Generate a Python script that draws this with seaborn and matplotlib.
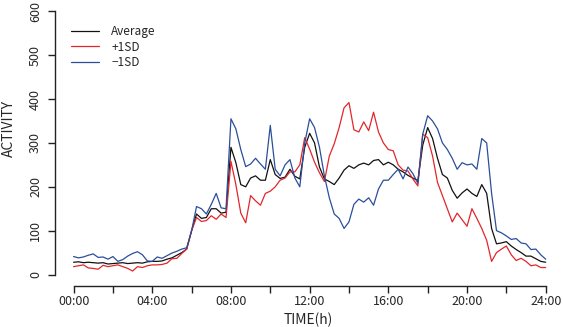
import numpy as np
import pandas as pd
import matplotlib
matplotlib.use("Agg")
import matplotlib.pyplot as plt
import seaborn as sns

# ---- data (15-minute steps) ----
hours = np.linspace(0, 24, 97)

average = [28, 29, 27, 28, 27, 26, 27, 24, 25, 26, 27, 25, 26, 27, 26, 29,
           30, 30, 31, 35, 38, 44, 50, 58, 100, 138, 128, 130, 150, 150, 140, 142,
           290, 255, 205, 200, 220, 225, 215, 215, 262, 228, 219, 222, 240, 224, 218, 290,
           322, 300, 245, 218, 212, 205, 220, 238, 248, 242, 250, 254, 250, 260, 262, 250,
           256, 250, 240, 234, 226, 220, 214, 295, 335, 310, 265, 228, 220, 192, 174, 186,
           195, 185, 178, 205, 185, 105, 70, 72, 75, 65, 57, 50, 42, 42, 36, 30, 28]

plus_sd = [18, 20, 22, 15, 14, 12, 21, 18, 20, 22, 18, 14, 8, 18, 16, 20,
           22, 22, 23, 26, 36, 37, 48, 58, 100, 130, 121, 123, 134, 126, 138, 130,
           258, 205, 140, 118, 180, 168, 158, 185, 190, 200, 215, 220, 234, 234, 250, 312,
           286, 256, 232, 212, 270, 298, 335, 380, 392, 330, 325, 348, 328, 370, 325, 300,
           285, 282, 250, 238, 236, 218, 202, 320, 312, 270, 210, 180, 150, 120, 140, 125,
           110, 150, 128, 105, 78, 30, 50, 58, 65, 45, 32, 37, 30, 20, 22, 16, 16]

minus_sd = [41, 38, 40, 44, 47, 39, 40, 35, 41, 30, 34, 42, 48, 52, 45, 31,
            30, 40, 37, 43, 49, 53, 58, 61, 100, 155, 150, 138, 160, 185, 152, 150,
            355, 332, 285, 246, 252, 265, 252, 240, 340, 240, 225, 250, 262, 220, 200, 300,
            355, 335, 290, 225, 175, 138, 128, 105, 120, 160, 172, 165, 175, 158, 195, 215,
            215, 228, 240, 218, 245, 230, 208, 320, 362, 350, 332, 300, 285, 265, 240, 255,
            250, 252, 240, 310, 300, 185, 100, 95, 88, 80, 82, 72, 70, 57, 58, 45, 35]

series_names = ["Average", "+1SD", "\u22121SD"]
series_colors = ["#111111", "#e2262c", "#2b4e9c"]
x_ticks = list(range(0, 25, 2))
x_labels = ["00:00", "", "04:00", "", "08:00", "", "12:00", "", "16:00", "", "20:00", "", "24:00"]
y_ticks = [0, 100, 200, 300, 400, 500, 600]

df = pd.DataFrame({
    "time": np.concatenate([hours, hours, hours]),
    "activity": np.concatenate([average, plus_sd, minus_sd]),
    "series": np.repeat(series_names, len(hours)),
})

sns.set_style("ticks")
plt.rcParams["font.family"] = ["Noto Sans CJK JP", "DejaVu Sans"]

fig = plt.figure(figsize=(5.63, 3.27), dpi=100)
W, H = 563, 327
ax = fig.add_axes([54.5 / W, (H - 285.5) / H, (563 - 54.5) / W, (285.5 - 0.8) / H])

sns.lineplot(data=df, x="time", y="activity", hue="series", hue_order=series_names,
             palette=dict(zip(series_names, series_colors)), linewidth=0.9,
             ax=ax, legend=True)

ax.set_xlim(-0.97, 24.88)
ax.set_ylim(-25, 624)
for s in ["top", "right"]:
    ax.spines[s].set_visible(False)
ax.spines["left"].set_bounds(0, 600)
ax.spines["bottom"].set_bounds(0, 24)
for s in ["left", "bottom"]:
    ax.spines[s].set_linewidth(1.0)
    ax.spines[s].set_color("#222222")

ax.set_xticks(x_ticks)
ax.set_xticklabels(x_labels, fontsize=9)
ax.set_yticks(y_ticks)
ax.set_yticklabels([str(v) for v in y_ticks], rotation=90, va="center", fontsize=9)
ax.tick_params(axis="both", length=5, width=1.0, color="#222222")
ax.tick_params(axis="y", pad=4)
ax.tick_params(axis="x", pad=2)

ax.set_xlabel("TIME(h)", fontsize=10, labelpad=3)
ax.set_ylabel("ACTIVITY", fontsize=10)
ax.yaxis.set_label_coords((16 - 54.5) / 508.5, (285.5 - 128) / 284.7)

leg = ax.legend(loc="upper left", bbox_to_anchor=(71 / W, 1 - 25 / H),
                bbox_transform=fig.transFigure, frameon=False, fontsize=8.5,
                handlelength=2.4, handletextpad=1.0, labelspacing=0.22,
                borderpad=0, borderaxespad=0)
for line in leg.get_lines():
    line.set_linewidth(0.9)

fig.savefig("out.png", dpi=100)
